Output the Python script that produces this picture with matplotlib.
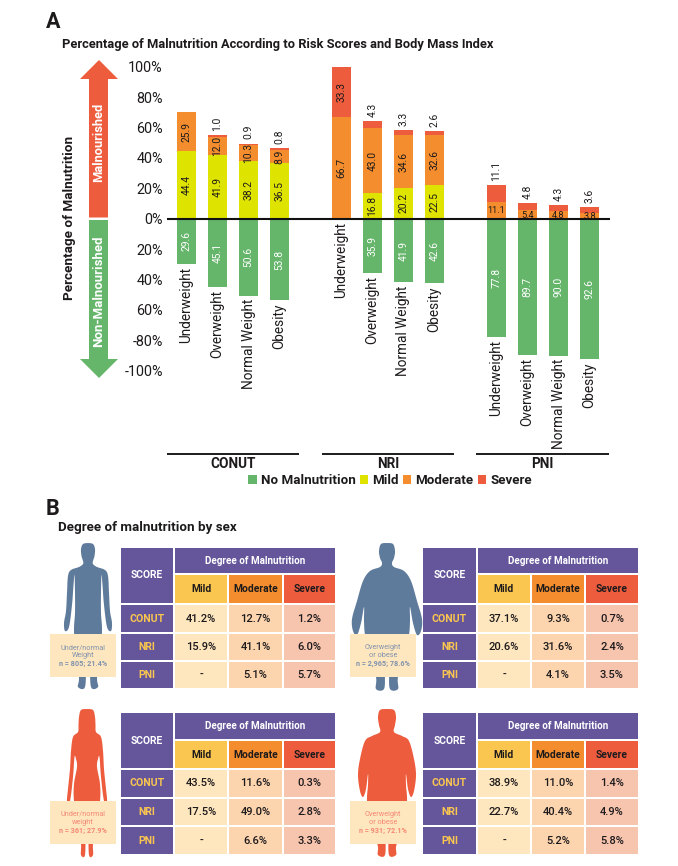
import numpy as np
import matplotlib
matplotlib.use("Agg")
import matplotlib.pyplot as plt
from matplotlib.patches import Rectangle, Polygon

plt.rcParams['font.family'] = ['Roboto', 'DejaVu Sans']

# ---------- data ----------
weight_classes = ["Underweight", "Overweight", "Normal Weight", "Obesity"]
scores = ["CONUT", "NRI", "PNI"]
no_malnutrition = [29.6, 45.1, 50.6, 53.8, 0, 35.9, 41.9, 42.6, 77.8, 89.7, 90.0, 92.6]
mild = [44.4, 41.9, 38.2, 36.5, 0, 16.8, 20.2, 22.5, 0, 0, 0, 0]
moderate = [25.9, 12.0, 10.3, 8.9, 66.7, 43.0, 34.6, 32.6, 11.1, 5.4, 4.8, 3.8]
severe = [0, 1.0, 0.9, 0.8, 33.3, 4.3, 3.3, 2.6, 11.1, 4.8, 4.3, 3.6]
y_ticks = [100, 80, 60, 40, 20, 0, -20, -40, -60, -80, -100]
y_tick_labels = ["100%", "80%", "60%", "40%", "20%", "0%", "20%", "40%", "60%", "-80%", "-100%"]

table_columns = ["Mild", "Moderate", "Severe"]
male_under = [["41.2%", "12.7%", "1.2%"], ["15.9%", "41.1%", "6.0%"], ["-", "5.1%", "5.7%"]]
male_over = [["37.1%", "9.3%", "0.7%"], ["20.6%", "31.6%", "2.4%"], ["-", "4.1%", "3.5%"]]
female_under = [["43.5%", "11.6%", "0.3%"], ["17.5%", "49.0%", "2.8%"], ["-", "6.6%", "3.3%"]]
female_over = [["38.9%", "11.0%", "1.4%"], ["22.7%", "40.4%", "4.9%"], ["-", "5.2%", "5.8%"]]
captions = [["Under/normal", "Weight", "n = 805; 21.4%"],
            ["Overweight", "or obese", "n = 2,965; 78.6%"],
            ["Under/normal", "weight", "n = 361; 27.9%"],
            ["Overweight", "or obese", "n = 931; 72.1%"]]

# ---------- colours ----------
GREEN, YELLOW, ORANGE, RED = "#65B56B", "#DFE300", "#F48D2D", "#EE5C3E"
PURPLE, GOLD = "#65559B", "#FBC64F"
CELL = ["#FEE6BE", "#FCD4AE", "#F7C4AE"]
BLUE = "#5F7B9C"
INK = "#1d1a1c"

W, H = 678, 866
fig = plt.figure(figsize=(W / 100, H / 100), dpi=100)
bg = fig.add_axes([0, 0, 1, 1])
bg.set_xlim(0, W)
bg.set_ylim(H, 0)
bg.axis("off")


def T(x, y, s, size, color=INK, weight="normal", ha="center", va="center", rot=0):
    return bg.text(x, y, s, fontsize=size, color=color, fontweight=weight, ha=ha, va=va, rotation=rot)


# ---------- panel A chart ----------
left, right, zero_px, scale = 167, 610, 218.7, 1.52
ax = fig.add_axes([left / W, 1 - (zero_px + 100 * scale) / H, (right - left) / W, 200 * scale / H])
ax.patch.set_alpha(0)
x_pos = np.array([0, 1, 2, 3, 5, 6, 7, 8, 10, 11, 12, 13], dtype=float)
ax.set_xlim((left - 186.5) / 31, (right - 186.5) / 31)
ax.set_ylim(-100, 100)
bw = 0.61
nm = np.array(no_malnutrition)
mi, mo, se = np.array(mild), np.array(moderate), np.array(severe)
ax.bar(x_pos, -nm, bw, color=GREEN, label="No Malnutrition")
ax.bar(x_pos, mi, bw, color=YELLOW, label="Mild")
ax.bar(x_pos, mo, bw, bottom=mi, color=ORANGE, label="Moderate")
ax.bar(x_pos, se, bw, bottom=mi + mo, color=RED, label="Severe")
ax.axhline(0, color="#111111", lw=1.5, zorder=5)
for s in ax.spines.values():
    s.set_visible(False)
ax.set_xticks([])
ax.set_yticks(y_ticks, y_tick_labels)
ax.tick_params(axis="y", length=0, pad=3, labelsize=10.4, labelcolor=INK)

vs = 7.4
for i, x in enumerate(x_pos):
    if nm[i] > 0:
        ax.text(x, -nm[i] / 2, f"{nm[i]:.1f}", rotation=90, color="white", fontsize=vs, ha="center", va="center")
    if mi[i] > 0:
        ax.text(x, mi[i] / 2, f"{mi[i]:.1f}", rotation=90, color=INK, fontsize=vs, ha="center", va="center")
    if i < 8:
        ax.text(x, mi[i] + mo[i] / 2, f"{mo[i]:.1f}", rotation=90, color=INK, fontsize=vs, ha="center", va="center")
    else:
        ax.text(x, mi[i] + mo[i] / 2 - 0.3, f"{mo[i]:.1f}", color=INK, fontsize=6.6, ha="center", va="center", zorder=6)
    top = mi[i] + mo[i] + se[i]
    if se[i] >= 20:
        ax.text(x, top - se[i] / 2, f"{se[i]:.1f}", rotation=90, color=INK, fontsize=vs, ha="center", va="center")
    elif se[i] > 0:
        ax.annotate(f"{se[i]:.1f}", (x, top), xytext=(0, 3), textcoords="offset points", rotation=90,
                    color=INK, fontsize=vs, ha="center", va="bottom")
    ax.annotate(weight_classes[i % 4], (x, -nm[i]), xytext=(0, -2), textcoords="offset points", rotation=90,
                color=INK, fontsize=9.8, ha="center", va="top", annotation_clip=False)

# legend
handles, labels = ax.get_legend_handles_labels()
fig.legend(handles, labels, ncols=4, loc="center left", bbox_to_anchor=(248 / W, 1 - 480.5 / H), frameon=False,
           prop={"size": 9.6, "weight": "bold"}, labelcolor=INK, handlelength=0.65, handleheight=0.65,
           handletextpad=0.3, columnspacing=0.3, borderpad=0, borderaxespad=0)

# group rules and labels
for name, (a, b) in zip(scores, [(167, 299), (322, 454), (476, 609)]):
    bg.plot([a, b], [453.7, 453.7], color=INK, lw=1.4, solid_capstyle="butt")
    T((a + b) / 2, 464.5, name, 9.8, weight="bold")

# arrows
bg.add_patch(Polygon([(89, 217.5), (89, 79), (80, 79), (99, 60), (118, 79), (108, 79), (108, 217.5)], color=RED, lw=0))
bg.add_patch(Polygon([(89, 220), (89, 359), (80, 359), (99, 378), (118, 359), (108, 359), (108, 220)], color=GREEN, lw=0))
T(98.5, 142, "Malnourished", 9.3, "white", "bold", rot=90)
T(98.5, 291, "Non-Malnourished", 9.5, "white", "bold", rot=90)
T(69, 218, "Percentage of Malnutrition", 9.7, weight="bold", rot=90)

T(46, 22, "A", 15.5, weight="bold", ha="left")
T(62, 44.5, "Percentage of Malnutrition According to Risk Scores and Body Mass Index", 9.3, weight="bold", ha="left")
T(46, 509, "B", 15.5, weight="bold", ha="left")
T(58, 527, "Degree of malnutrition by sex", 9.6, weight="bold", ha="left")


# ---------- silhouettes ----------
def smooth(points, n=8):
    p = np.array(points, float)
    q = np.vstack([p[0], p, p[-1]])
    out = []
    for i in range(1, len(q) - 2):
        for t in np.linspace(0, 1, n, endpoint=False):
            a, b, c, d = q[i - 1], q[i], q[i + 1], q[i + 2]
            out.append(0.5 * (2 * b + (c - a) * t + (2 * a - 5 * b + 4 * c - d) * t ** 2 + (3 * b - a - 3 * c + d) * t ** 3))
    out.append(p[-1])
    return np.array(out)


def body(cx, top, half, color):
    h = smooth(half)
    right_side = np.column_stack([cx + h[:, 0], top + h[:, 1]])
    left_side = np.column_stack([cx - h[::-1, 0], top + h[::-1, 1]])
    bg.add_patch(Polygon(np.vstack([right_side, left_side]), closed=True, color=color, lw=0, zorder=1))


male_thin = [(0, 0), (5, 1), (7, 6), (6.5, 13), (5, 18), (5, 21), (9, 24), (17, 27), (20, 33), (21, 50), (22, 68),
             (24, 80), (23, 88), (19, 84), (16, 62), (14.5, 42), (13.5, 32), (13, 50), (13, 70), (14, 88), (12, 115),
             (9, 135), (10, 144), (3, 144), (2, 120), (1, 98), (0, 92)]
male_fat = [(0, 0), (6, 1), (8, 8), (7, 15), (5, 20), (7, 24), (17, 28), (24, 38), (30, 58), (35, 76), (34, 88),
            (30, 92), (26, 80), (23, 64), (23, 78), (22, 92), (18, 110), (11, 134), (11, 146), (3, 146), (2, 130),
            (1, 108), (0, 100)]
female_thin = [(0, 0), (6, 1), (8, 8), (8.5, 16), (9, 23), (14, 28), (16, 42), (17, 60), (19, 80), (20, 92), (17, 92),
               (14, 68), (12.5, 48), (11, 50), (10, 58), (13, 75), (13, 92), (9, 115), (6, 135), (6, 146), (2, 146),
               (1.5, 122), (1, 100), (0, 94)]
female_fat = [(0, 0), (7, 1), (9, 8), (8, 16), (7, 23), (15, 27), (22, 32), (27, 50), (29, 66), (27, 82), (24, 88),
              (21, 80), (19, 65), (19, 76), (20, 92), (17, 110), (12, 128), (9, 138), (9, 146), (2, 146), (1.5, 125),
              (1, 108), (0, 102)]

# ---------- tables ----------
X_LEFT = [(121, 173), (175, 227), (229, 282), (284, 335)]
X_RIGHT = [(423, 476), (478, 530), (532, 584), (586, 638)]
Y_TOP = [(548, 573), (575, 603), (605, 632), (634, 660), (662, 688)]
Y_BOTTOM = [(713, 739), (741, 768), (770, 797), (799, 825), (827, 854)]


def rect(x0, x1, y0, y1, color, z=2):
    bg.add_patch(Rectangle((x0, y0), x1 - x0, y1 - y0, color=color, lw=0, zorder=z))


def table(X, Y, values):
    rect(X[0][0], X[0][1], Y[0][0], Y[1][1], PURPLE)
    T(sum(X[0]) / 2, (Y[0][0] + Y[1][1]) / 2, "SCORE", 7.4, "white", "bold")
    rect(X[1][0], X[3][1], Y[0][0], Y[0][1], PURPLE)
    T((X[1][0] + X[3][1]) / 2, sum(Y[0]) / 2, "Degree of Malnutrition", 7.1, "white", "bold")
    for c, (name, col) in enumerate(zip(table_columns, [GOLD, ORANGE, RED])):
        rect(*X[c + 1], *Y[1], col)
        T(sum(X[c + 1]) / 2, sum(Y[1]) / 2, name, 7.4, INK, "bold")
    for r in range(3):
        rect(*X[0], *Y[r + 2], PURPLE)
        T(sum(X[0]) / 2, sum(Y[r + 2]) / 2, scores[r], 7.6, GOLD, "bold")
        for c in range(3):
            rect(*X[c + 1], *Y[r + 2], CELL[c])
            T(sum(X[c + 1]) / 2, sum(Y[r + 2]) / 2, values[r][c], 8, INK, "medium")


table(X_LEFT, Y_TOP, male_under)
table(X_RIGHT, Y_TOP, male_over)
table(X_LEFT, Y_BOTTOM, female_under)
table(X_RIGHT, Y_BOTTOM, female_over)

body(88, 543, male_thin, BLUE)
body(387, 543, male_fat, BLUE)
body(87, 709, female_thin, RED)
body(387, 709, female_fat, RED)


def caption(x0, y0, lines, color):
    rect(x0, x0 + 66, y0, y0 + 43, CELL[0], z=3)
    for k, (line, w) in enumerate(zip(lines, ["normal", "normal", "bold"])):
        t = T(x0 + 33, y0 + 13.5 + k * 8, line, 5.2, color, w)
        t.set_zorder(4)


caption(50, 634, captions[0], "#7F93AE")
caption(350, 634, captions[1], "#7F93AE")
caption(50, 801, captions[2], "#F48873")
caption(350, 801, captions[3], "#F48873")

fig.savefig("out.png", dpi=100)
